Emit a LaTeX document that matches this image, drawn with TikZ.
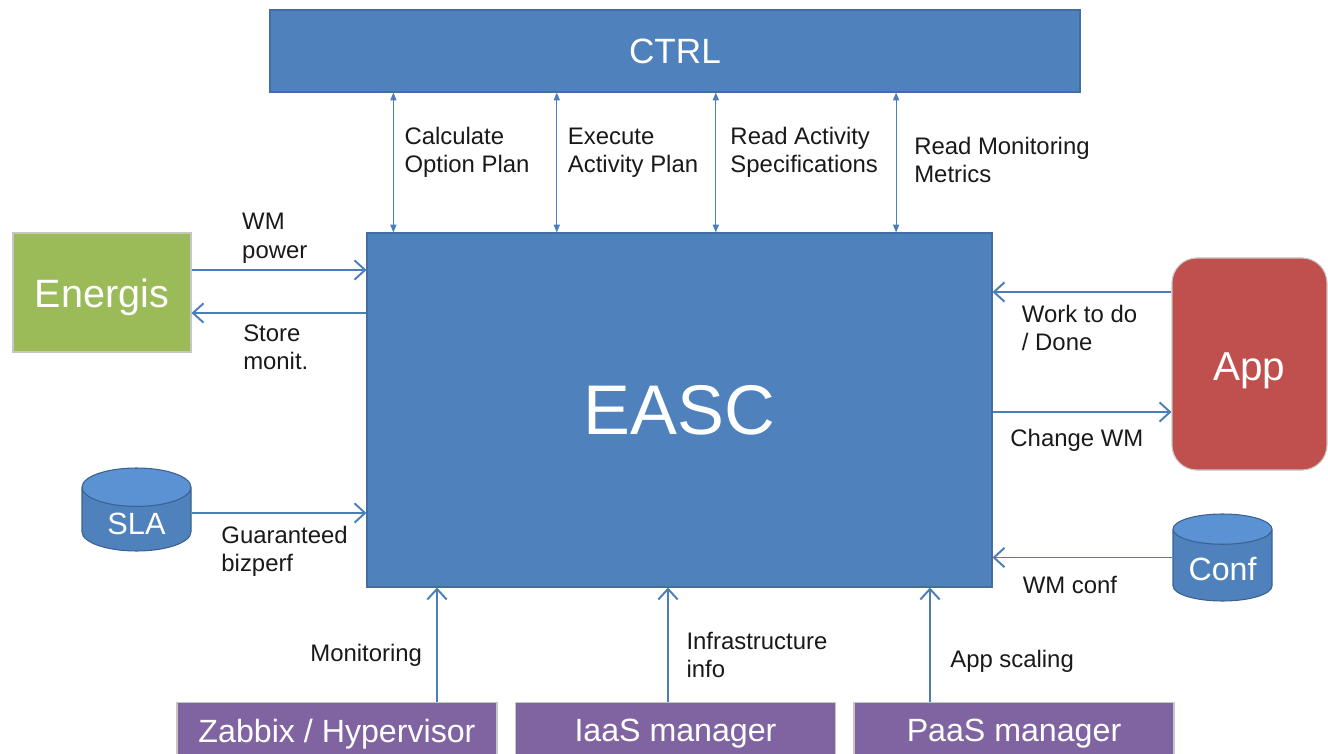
\documentclass[tikz,border=0pt]{standalone}
\usepackage{fontspec}
\setmainfont{Liberation Sans}
\usetikzlibrary{arrows.meta}
\usetikzlibrary{positioning, calc}
\usetikzlibrary{shapes.geometric}

\definecolor{officeblue}{HTML}{4F81BD}
\definecolor{officegreen}{HTML}{9BBB59}
\definecolor{officered}{HTML}{C0504D}
\definecolor{officepurple}{HTML}{8064A2}
\definecolor{arrowblue}{HTML}{4A7EBB}
\definecolor{lidblue}{HTML}{5A92D4}

\begin{document}
\begin{tikzpicture}[
    block/.style={draw=gray!45, line width=0.6pt, text=white, font=\fontsize{20}{24}\selectfont},
    blue block/.style={block, fill=officeblue, draw=officeblue!85!black},
    manager/.style={block, fill=officepurple, minimum width=6.4cm, minimum height=1.25cm, font=\fontsize{18.3}{22}\selectfont},
    store/.style={cylinder, shape border rotate=90, aspect=0.55, anchor=shape center, draw=officeblue!75!black, line width=0.6pt, cylinder uses custom fill, cylinder body fill=officeblue, cylinder end fill=lidblue, text=white},
    flow/.style={arrowblue, line width=1.1pt, -{Straight Barb[length=6pt, width=11pt]}},
    call/.style={arrowblue, line width=0.7pt, {Triangle[length=4.5pt, width=3.5pt]}-{Triangle[length=4.5pt, width=3.5pt]}},
    lbl/.style={text=black!90, font=\fontsize{13.6}{16}\selectfont, align=left, inner sep=2pt}
]
    \useasboundingbox (0, 0) rectangle (26.56, 15.06);

    \draw (13.59, 6.86) node[blue block, minimum width=12.5cm, minimum height=7.08cm, font=\fontsize{40}{48}\selectfont] (easc) {EASC};
    \draw (easc) ++(-0.09, 7.18) node[blue block, minimum width=16.2cm, minimum height=1.64cm] (ctrl) {CTRL};

    \draw (2.04, 9.21) node[block, fill=officegreen, minimum width=3.56cm, minimum height=2.38cm, text height=17.5pt, text depth=0pt, font=\fontsize{22.5}{27}\selectfont] (energis) {Energis};
    \draw (2.73, 4.87) node[store, minimum width=2.18cm, minimum height=1.66cm, font=\fontsize{17.5}{21}\selectfont] (sla) {SLA};

    \draw (24.99, 7.78) node[block, fill=officered, rounded corners=0.5cm, minimum width=3.1cm, minimum height=4.24cm, text height=18.7pt, text depth=0pt, font=\fontsize{23}{27}\selectfont] (app) {App};
    \draw (24.45, 3.91) node[store, aspect=0.38, minimum width=1.98cm, minimum height=1.74cm, font=\fontsize{18.3}{22}\selectfont] (conf) {Conf};

    \foreach \name/\txt/\x in {zabbix/{Zabbix / Hypervisor}/6.74, iaas/{IaaS manager}/13.51, paas/{PaaS manager}/20.28} {
        \draw (\x, 0.38) node[manager] (\name) {\txt};
    }

    % CTRL <-> EASC calls:
    \foreach \f/\txt/\p/\gap [count=\i] in {.043/{Calculate\\Option Plan}/.57/4pt, .304/{Execute\\Activity Plan}/.57/4pt, .558/{Read Activity\\Specifications}/.57/6pt, .846/{Read Monitoring\\Metrics}/.52/8pt} {
        \coordinate (q\i) at ($(easc.north west)!\f!(easc.north east)$);
        \draw[call] (q\i) -- (q\i |- ctrl.south) node[lbl, right=\gap, pos=\p] {\txt};
    }

    % left side:
    \draw[flow] ([yshift=0.45cm]energis.east) -- ([yshift=0.45cm]energis.east -| easc.west) node[lbl, above right=2pt, pos=0.25] {WM\\power};
    \draw[flow] ([yshift=-0.41cm]energis.east -| easc.west) -- ([yshift=-0.41cm]energis.east) node[lbl, below right=4pt and 2pt, pos=0.75] {Store\\monit.};
    \coordinate (slaout) at ([yshift=-0.07cm]sla.shape center -| sla.east);
    \draw[flow] (slaout) -- (slaout -| easc.west) node[lbl, below right=5pt and 3pt, pos=0.115] {Guaranteed\\bizperf};

    % right side:
    \draw[flow] ([yshift=1.44cm]app.west) -- ([yshift=1.44cm]app.west -| easc.east) node[lbl, below right=5pt and 3pt, pos=0.89] {Work to do\\/ Done};
    \draw[flow] ([yshift=-0.96cm]app.west -| easc.east) -- ([yshift=-0.96cm]app.west) node[lbl, below right=7pt and 5pt, pos=0.026] {Change WM};
    \coordinate (confout) at (conf.shape center -| conf.west);
    \draw[flow] (confout) -- (confout -| easc.east) node[lbl, below right=8pt and 6pt, pos=0.915] {WM conf};

    % bottom:
    \draw[flow] ([xshift=2cm]zabbix.north) -- ([xshift=2cm]zabbix.north |- easc.south) node[lbl, left=6pt, pos=0.41] {Monitoring};
    \draw[flow] ([xshift=-0.15cm]iaas.north) -- ([xshift=-0.15cm]iaas.north |- easc.south) node[lbl, right=8pt, pos=0.41] {Infrastructure\\info};
    \draw[flow] ([xshift=-1.68cm]paas.north) -- ([xshift=-1.68cm]paas.north |- easc.south) node[lbl, right=9pt, pos=0.36] {App scaling};

\end{tikzpicture}
\end{document}
